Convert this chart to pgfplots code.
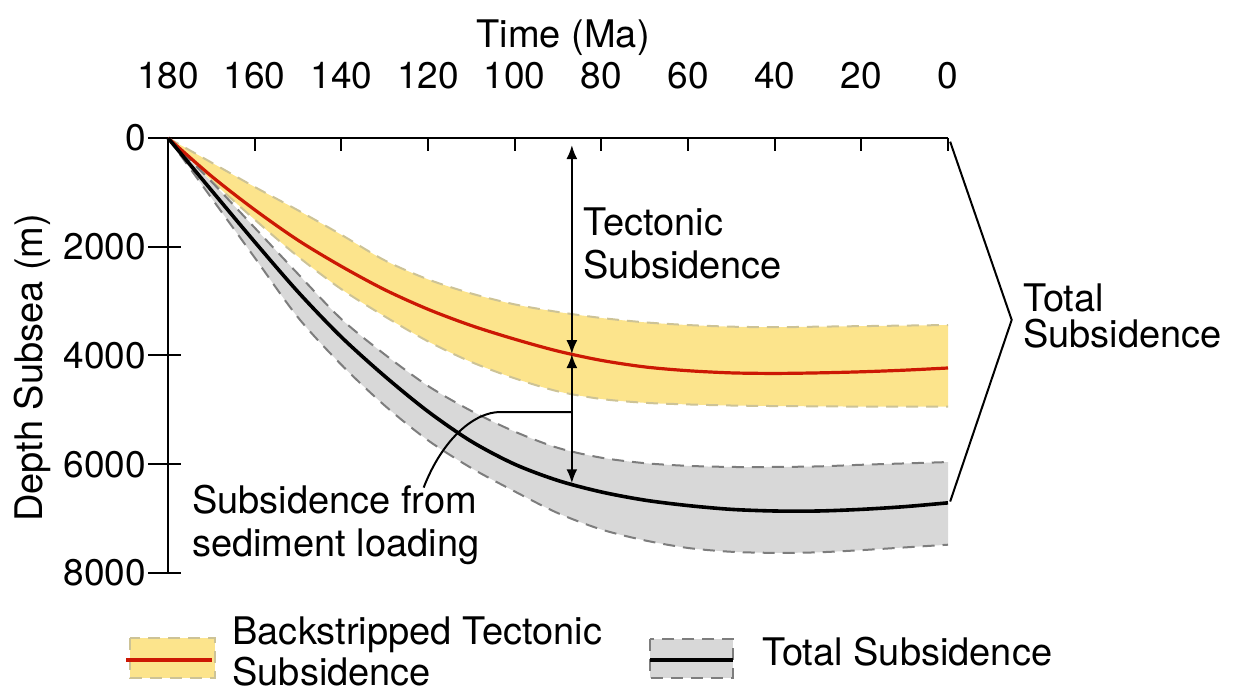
\documentclass[border=0pt]{standalone}
\usepackage{fontspec}
\setmainfont{TeX Gyre Heros}
\usepackage{pgfplots}
\pgfplotsset{compat=1.18}
\usepackage{pgfplotstable}
\usepgfplotslibrary{fillbetween}
\usetikzlibrary{arrows.meta}

\definecolor{yfill}{RGB}{252,228,140}
\definecolor{ydash}{RGB}{205,195,150}
\definecolor{gfill}{RGB}{216,216,216}
\definecolor{gdash}{RGB}{125,125,125}
\definecolor{tred}{RGB}{204,24,4}

\pgfplotstableread{
t ytop red ybot gtop blk gbot
180 0 0 0 0 0 0
170 450 700 780 800 960 1100
160 900 1320 1500 1650 1910 2200
150 1330 1880 2180 2500 2830 3300
140 1780 2360 2780 3330 3660 4170
130 2250 2790 3280 3980 4380 4920
120 2600 3150 3740 4560 5030 5560
110 2860 3450 4120 5020 5580 6070
100 3060 3700 4420 5400 6000 6500
90 3200 3920 4660 5700 6300 6900
80 3310 4090 4800 5880 6510 7200
70 3390 4210 4870 5980 6660 7400
60 3440 4280 4900 6030 6760 7540
50 3470 4320 4920 6050 6830 7610
40 3480 4330 4930 6050 6860 7630
30 3470 4320 4935 6040 6860 7620
20 3460 4300 4940 6010 6830 7580
10 3450 4270 4940 5985 6780 7530
0 3440 4230 4940 5960 6710 7480
}\datatable

\begin{document}
\begin{tikzpicture}[font=\fontsize{19}{21.5}\selectfont]
\begin{axis}[
  at={(84pt,-69pt)}, anchor=north west,
  width=390pt, height=217.5pt, scale only axis,
  set layers, clip=false,
  x dir=reverse, y dir=reverse,
  xmin=0, xmax=180, ymin=0, ymax=8000,
  axis x line=top, axis y line=left,
  axis line style={-, line width=1pt},
  xtick={0,20,...,180}, ytick={0,2000,...,8000},
  tick align=inside, major tick length=6.5pt,
  tick style={line width=1pt, black},
  every tick label/.append style={font=\fontsize{18.5}{21}\selectfont},
  /pgf/number format/assume math mode=true,
  /pgf/number format/1000 sep={},
  xticklabel style={yshift=21pt},
  yticklabel style={xshift=-7.5pt},
]
\addplot[name path=ytop, draw=ydash, dash pattern=on 6pt off 4pt, line width=1pt, smooth] table[x=t,y=ytop]{\datatable};
\addplot[name path=ybot, draw=ydash, dash pattern=on 6pt off 4pt, line width=1pt, smooth] table[x=t,y=ybot]{\datatable};
\addplot[yfill] fill between[of=ytop and ybot];
\addplot[name path=gtop, draw=gdash, dash pattern=on 6pt off 4pt, line width=1pt, smooth] table[x=t,y=gtop]{\datatable};
\addplot[name path=gbot, draw=gdash, dash pattern=on 6pt off 4pt, line width=1pt, smooth] table[x=t,y=gbot]{\datatable};
\addplot[gfill] fill between[of=gtop and gbot];
\addplot[tred, line width=1.6pt, smooth] table[x=t,y=red]{\datatable};
\addplot[black, line width=1.8pt, smooth] table[x=t,y=blk]{\datatable};

\pgfplotsinvokeforeach{0,2000,4000,6000,8000}{
  \draw[line width=1pt] (axis cs:180,#1) -- ++(-10pt,0);
}

\draw[line width=1pt, {Latex[length=7pt,width=5.5pt]}-{Latex[length=7pt,width=5.5pt]}] (axis cs:86.8,130) -- (axis cs:86.8,3975);
\draw[line width=1pt, {Latex[length=7pt,width=5.5pt]}-{Latex[length=7pt,width=5.5pt]}] (axis cs:86.8,3975) -- (axis cs:86.8,6350);
\draw[line width=1pt] (axis cs:86.8,5040) -- (axis cs:103.4,5040) .. controls (axis cs:109,5040) and (axis cs:116.5,5500) .. (axis cs:121,6430);

\node[anchor=base west, inner sep=0] at (axis cs:84.2,1801) {Tectonic};
\node[anchor=base west, inner sep=0] at (axis cs:84.2,2592) {Subsidence};
\node[anchor=base west, inner sep=0] at (axis cs:174.5,6912) {Subsidence from};
\node[anchor=base west, inner sep=0] at (axis cs:174.5,7697) {sediment loading};

\node[anchor=base, inner sep=0] at (axis cs:88.8,0) [yshift=45pt] {Time (Ma)};
\node[rotate=90, anchor=center, inner sep=0] at ([xshift=-68pt]axis cs:180,4228) {Depth Subsea (m)};

\draw[line width=1pt] (axis cs:-0.5,68) -- (axis cs:-14.7,3346) -- (axis cs:-0.5,6686);
\node[anchor=base west, inner sep=0] at (axis cs:-17.3,3193) {Total};
\node[anchor=base west, inner sep=0] at (axis cs:-17.3,3860) {Subsidence};
\end{axis}
\begin{scope}[x=0.5pt,y=-0.5pt]
\fill[yfill] (130,638) rectangle (215,678);
\draw[ydash, dash pattern=on 6pt off 4pt, line width=1pt] (130,638) rectangle (215,678);
\draw[tred, line width=1.8pt] (126,660) -- (212,660);
\node[anchor=base west, inner sep=0] at (232,645) {Backstripped Tectonic};
\node[anchor=base west, inner sep=0] at (232,685) {Subsidence};
\fill[gfill] (650,639) rectangle (733,678);
\draw[gdash, dash pattern=on 6pt off 4pt, line width=1pt] (650,639) rectangle (733,678);
\draw[black, line width=1.8pt] (650,660) -- (733,660);
\node[anchor=base west, inner sep=0] at (762,666) {Total Subsidence};
\path (0,0) rectangle (1237,694);
\end{scope}
\end{tikzpicture}
\end{document}
